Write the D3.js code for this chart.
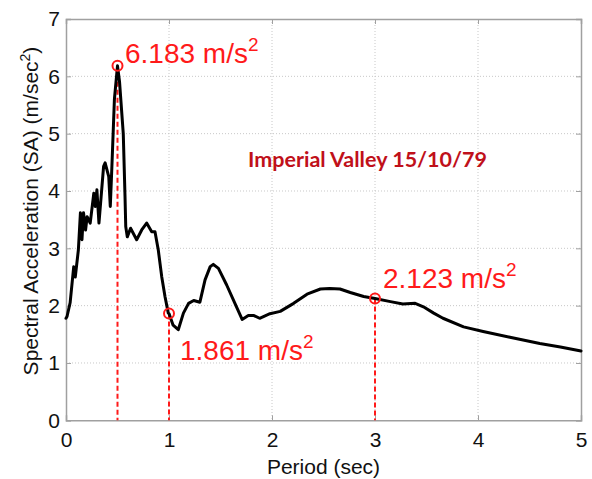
<!DOCTYPE html>
<html><head><meta charset="utf-8">
<script src="https://cdn.jsdelivr.net/npm/d3@7"></script>
<style>body{margin:0;background:#fff}svg{display:block}</style>
</head><body>
<svg id="c" width="592" height="479"></svg>
<script>
// ---- data ----
const periods = [0, 0.01, 0.04, 0.075, 0.09, 0.12, 0.14, 0.155, 0.17, 0.19, 0.205, 0.235, 0.27, 0.285, 0.30, 0.32, 0.365, 0.38, 0.415, 0.43, 0.445, 0.47, 0.5, 0.52, 0.556, 0.573, 0.58, 0.595, 0.627, 0.686, 0.735, 0.783, 0.832, 0.864, 0.896, 0.929, 0.961, 0.993, 1.0, 1.04, 1.09, 1.14, 1.19, 1.24, 1.30, 1.35, 1.40, 1.43, 1.48, 1.56, 1.64, 1.71, 1.77, 1.82, 1.88, 1.98, 2.08, 2.21, 2.34, 2.47, 2.56, 2.66, 2.76, 2.89, 3.0, 3.15, 3.27, 3.39, 3.47, 3.57, 3.66, 3.86, 4.05, 4.31, 4.60, 4.80, 5.0];
const saValues = [1.78, 1.81, 2.05, 2.68, 2.5, 2.97, 3.62, 3.15, 3.62, 3.32, 3.55, 3.44, 3.96, 3.73, 4.02, 3.44, 4.43, 4.49, 4.25, 3.73, 4.4, 5.6, 6.183, 5.9, 5.0, 3.9, 3.38, 3.2, 3.35, 3.15, 3.32, 3.44, 3.29, 3.29, 2.97, 2.51, 2.16, 1.87, 1.861, 1.66, 1.58, 1.87, 2.04, 2.09, 2.06, 2.45, 2.68, 2.72, 2.65, 2.36, 2.04, 1.76, 1.83, 1.83, 1.78, 1.86, 1.90, 2.04, 2.20, 2.29, 2.30, 2.29, 2.23, 2.16, 2.123, 2.07, 2.03, 2.04, 1.98, 1.87, 1.78, 1.63, 1.55, 1.45, 1.34, 1.28, 1.21];
const markPeriods = [0.5, 1.0, 3.0];
const markValues = [6.183, 1.861, 2.123];
const markLabels = ["6.183 m/s", "1.861 m/s", "2.123 m/s"];
const xTicks = [0, 1, 2, 3, 4, 5];
const yTicks = [0, 1, 2, 3, 4, 5, 6, 7];
const titleText = "Imperial Valley 15/10/79";
const xLabel = "Period (sec)";
const yLabel = "Spectral Acceleration (SA) (m/sec";

// ---- layout ----
const L = 66, R = 581, T = 19, B = 420.3;
const svg = d3.select("#c");
const x = d3.scaleLinear().domain([0, 5]).range([L, R]);
const y = d3.scaleLinear().domain([0, 7]).range([B, T]);
const font = "'Liberation Sans', Arial, Helvetica, sans-serif";

// grid
const g = svg.append("g");
g.selectAll(".gx").data(xTicks.slice(1, -1)).enter().append("line")
  .attr("x1", d => x(d)).attr("x2", d => x(d)).attr("y1", T).attr("y2", B)
  .attr("stroke", "#c8c8c8").attr("stroke-width", 1).attr("stroke-dasharray", "1,2");
g.selectAll(".gy").data(yTicks.slice(1, -1)).enter().append("line")
  .attr("y1", d => y(d)).attr("y2", d => y(d)).attr("x1", L).attr("x2", R)
  .attr("stroke", "#c8c8c8").attr("stroke-width", 1).attr("stroke-dasharray", "1,2");

// axes via d3
const axB = svg.append("g").attr("transform", `translate(0,${B})`)
  .call(d3.axisBottom(x).tickValues(xTicks).tickSize(-5).tickPadding(12).tickFormat(d3.format("d")));
const axL = svg.append("g").attr("transform", `translate(${L},0)`)
  .call(d3.axisLeft(y).tickValues(yTicks).tickSize(-5).tickPadding(6).tickFormat(d3.format("d")));
const axT = svg.append("g").attr("transform", `translate(0,${T})`)
  .call(d3.axisTop(x).tickValues(xTicks).tickSize(-5).tickFormat(""));
const axR = svg.append("g").attr("transform", `translate(${R},0)`)
  .call(d3.axisRight(y).tickValues(yTicks).tickSize(-5).tickFormat(""));
[axB, axL, axT, axR].forEach(a => {
  a.select(".domain").attr("stroke", "#a0a0a0").attr("stroke-width", 1.5);
  a.selectAll(".tick line").attr("stroke", "#a0a0a0").attr("stroke-width", 1);
  a.selectAll("text").attr("font-family", font).attr("font-size", 21).attr("fill", "#111");
});

// dashed drop lines
svg.selectAll(".drop").data(markPeriods).enter().append("line")
  .attr("x1", d => x(d)).attr("x2", d => x(d))
  .attr("y1", (d, i) => y(markValues[i])).attr("y2", B)
  .attr("stroke", "#ff1a1a").attr("stroke-width", 2).attr("stroke-dasharray", "5,3");

// main curve
const line = d3.line().x((d, i) => x(periods[i])).y(d => y(d)).curve(d3.curveLinear);
svg.append("path").datum(saValues).attr("d", line)
  .attr("fill", "none").attr("stroke", "#000").attr("stroke-width", 3)
  .attr("stroke-linejoin", "round").attr("stroke-linecap", "round");

// markers
svg.selectAll(".mk").data(markPeriods).enter().append("circle")
  .attr("cx", d => x(d)).attr("cy", (d, i) => y(markValues[i])).attr("r", 5)
  .attr("fill", "none").attr("stroke", "#ff1a1a").attr("stroke-width", 2);

// annotation labels
const labPos = [[125, 63], [180, 360], [383, 288]];
markLabels.forEach((t, i) => {
  const tx = svg.append("text").attr("x", labPos[i][0]).attr("y", labPos[i][1])
    .attr("font-family", font).attr("font-size", 28).attr("fill", "#ff1a1a");
  tx.append("tspan").text(t);
  tx.append("tspan").attr("dy", -12).attr("font-size", 19).text("2");
});

// title annotation
svg.append("text").attr("x", 248).attr("y", 167)
  .attr("font-family", "Lato, 'Open Sans', sans-serif").attr("font-weight", "bold")
  .attr("font-size", 21.5).attr("fill", "#c0101a").text(titleText);

// axis labels
svg.append("text").attr("x", (L + R) / 2).attr("y", 474).attr("text-anchor", "middle")
  .attr("font-family", font).attr("font-size", 21).attr("fill", "#111").text(xLabel);
const yl = svg.append("text").attr("transform", "translate(38,211) rotate(-90)")
  .attr("text-anchor", "middle").attr("font-family", font).attr("font-size", 21).attr("fill", "#111");
yl.append("tspan").text(yLabel);
yl.append("tspan").attr("dy", -8).attr("font-size", 14).text("2");
yl.append("tspan").attr("dy", 8).text(")");
</script>
</body></html>
